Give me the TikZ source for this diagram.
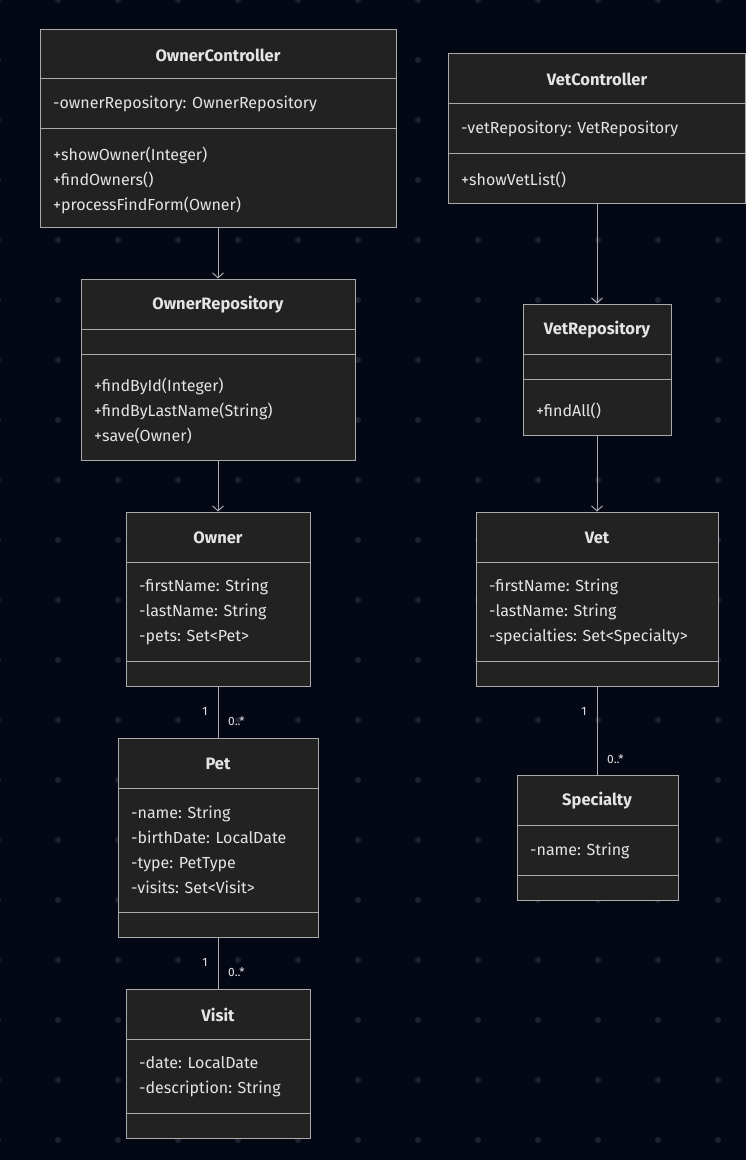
\documentclass[tikz,border=0pt]{standalone}
\usepackage{fontspec}
\setmainfont{Fira Sans}
\usetikzlibrary{arrows.meta}
\definecolor{umlbg}{RGB}{4,8,20}
\definecolor{umldot}{RGB}{30,34,48}
\definecolor{umlfill}{RGB}{34,34,34}
\definecolor{umlline}{RGB}{170,170,170}
\definecolor{umltext}{RGB}{228,228,228}

\begin{document}
\begin{tikzpicture}[x=1pt,y=-1pt,font=\fontsize{16}{25}\selectfont,cls/.style={draw=umlline,fill=umlfill,line width=1pt,inner sep=0pt},ttl/.style={text=umltext,inner sep=0pt,yshift=-1pt,font=\fontsize{16.5}{18}\selectfont\bfseries},mem/.style={text=umltext,anchor=west,align=left,inner sep=0pt,yshift=-1pt},div/.style={draw=umlline,line width=1pt},flow/.style={-{Straight Barb[length=5pt,width=11pt]},draw=umlline,line width=1pt},assoc/.style={draw=umlline,line width=1pt},mult/.style={text=umltext,inner sep=0pt,font=\fontsize{12}{14}\selectfont}]
\useasboundingbox (0,0) rectangle (746,1160);
\fill[umlbg] (0,0) rectangle (746,1160);
\foreach \i in {0,...,13} \foreach \j in {0,...,19} \fill[umldot] (\i*60-2,\j*60) circle (3pt);
% owner side
\node[cls,minimum width=356pt,minimum height=198pt] (ownerctl) at (218,128) {};
\node[ttl] (ownerctlname) at (218,54) {OwnerController};
\draw[div] (40,78) -- (396,78);
\draw[div] (40,128) -- (396,128);
\node[mem] (ownerctlattr) at (53,103) {-ownerRepository: OwnerRepository};
\node[mem] (ownerctlops) at (53,179) {+showOwner(Integer)\\+findOwners()\\+processFindForm(Owner)};
\node[cls,minimum width=274pt,minimum height=181pt] (ownerrepo) at (218,369.5) {};
\node[ttl] (ownerreponame) at (218,304) {OwnerRepository};
\draw[div] (81,329) -- (355,329);
\draw[div] (81,354) -- (355,354);
\node[mem] (ownerrepoops) at (94,410) {+findById(Integer)\\+findByLastName(String)\\+save(Owner)};
\node[cls,minimum width=184pt,minimum height=174pt] (owner) at (218,599) {};
\node[ttl] (ownername) at (218,537) {Owner};
\draw[div] (126,562) -- (310,562);
\draw[div] (126,661) -- (310,661);
\node[mem] (ownerattr) at (139,611) {-firstName: String\\-lastName: String\\-pets: Set<Pet>};
\node[cls,minimum width=200pt,minimum height=199pt] (pet) at (218,837.5) {};
\node[ttl] (petname) at (218,763) {Pet};
\draw[div] (118,788) -- (318,788);
\draw[div] (118,912) -- (318,912);
\node[mem] (petattr) at (131,849) {-name: String\\-birthDate: LocalDate\\-type: PetType\\-visits: Set<Visit>};
\node[cls,minimum width=184pt,minimum height=149pt] (visit) at (218,1063.5) {};
\node[ttl] (visitname) at (218,1014) {Visit};
\draw[div] (126,1039) -- (310,1039);
\draw[div] (126,1113) -- (310,1113);
\node[mem] (visitattr) at (139,1075.5) {-date: LocalDate\\-description: String};
% vet side
\node[cls,minimum width=297pt,minimum height=150pt] (vetctl) at (596.5,128) {};
\node[ttl] (vetctlname) at (597,78) {VetController};
\draw[div] (448,103) -- (745,103);
\draw[div] (448,153) -- (745,153);
\node[mem] (vetctlattr) at (461,128) {-vetRepository: VetRepository};
\node[mem] (vetctlops) at (461,179) {+showVetList()};
\node[cls,minimum width=148pt,minimum height=131pt] (vetrepo) at (597,369.5) {};
\node[ttl] (vetreponame) at (597,329) {VetRepository};
\draw[div] (523,354) -- (671,354);
\draw[div] (523,379) -- (671,379);
\node[mem] (vetrepoops) at (536,410) {+findAll()};
\node[cls,minimum width=242pt,minimum height=174pt] (vet) at (597,599) {};
\node[ttl] (vetname) at (597,537) {Vet};
\draw[div] (476,562) -- (718,562);
\draw[div] (476,661) -- (718,661);
\node[mem] (vetattr) at (489,611) {-firstName: String\\-lastName: String\\-specialties: Set<Specialty>};
\node[cls,minimum width=161pt,minimum height=125pt] (specialty) at (597.5,837.5) {};
\node[ttl] (specialtyname) at (597,800) {Specialty};
\draw[div] (517,825) -- (678,825);
\draw[div] (517,875) -- (678,875);
\node[mem] (specialtyattr) at (530,850) {-name: String};
% connectors
\draw[flow] (ownerctl.south) -- (ownerrepo.north);
\draw[flow] (ownerrepo.south) -- (owner.north);
\draw[flow] (vetctl.south -| vetrepo.north) -- (vetrepo.north);
\draw[flow] (vetrepo.south) -- (vet.north);
\draw[assoc] (owner.south) -- (pet.north);
\draw[assoc] (pet.south) -- (visit.north);
\draw[assoc] (vet.south) -- (vet.south |- specialty.north);
\node[mult] (ownerone) at (205,711) {1};
\node[mult,anchor=west] (petmany) at (228,721) {0..*};
\node[mult] (petone) at (205,962) {1};
\node[mult,anchor=west] (visitmany) at (228,972) {0..*};
\node[mult] (vetone) at (584,711) {1};
\node[mult,anchor=west] (specialtymany) at (607,759) {0..*};
\end{tikzpicture}
\end{document}
